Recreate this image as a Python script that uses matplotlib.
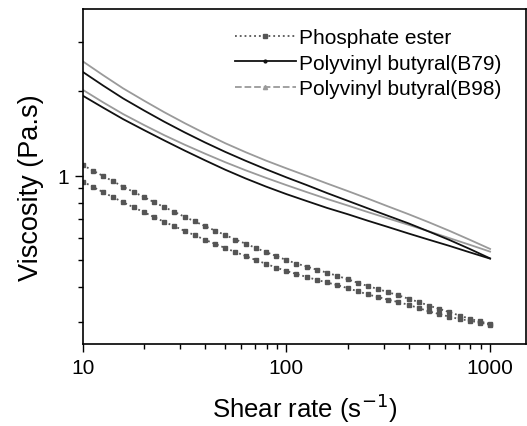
import numpy as np
import matplotlib
matplotlib.use('Agg')
import matplotlib.pyplot as plt
from matplotlib.lines import Line2D
from matplotlib.ticker import LogLocator, NullFormatter, FixedLocator, FixedFormatter

plt.rcParams['font.family'] = ['Liberation Sans', 'DejaVu Sans']

# shear rates for the polymer curves (1/s)
shear = [10, 12.6, 15.8, 20.0, 25.1, 31.6, 39.8, 50.1, 63.1, 79.4, 100,
         126, 158, 200, 251, 316, 398, 501, 631, 794, 1000]

# viscosity (Pa.s) - B98 (grey) and B79 (black), two runs each
b98_a = [2.564, 2.286, 2.051, 1.854, 1.687, 1.542, 1.416, 1.306, 1.213, 1.132, 1.062,
         0.998, 0.938, 0.881, 0.828, 0.776, 0.728, 0.681, 0.635, 0.590, 0.547]
b98_b = [2.028, 1.828, 1.660, 1.517, 1.396, 1.291, 1.199, 1.117, 1.045, 0.982, 0.925,
         0.873, 0.826, 0.782, 0.741, 0.703, 0.667, 0.632, 0.598, 0.566, 0.535]
b79_a = [2.350, 2.099, 1.888, 1.710, 1.560, 1.429, 1.315, 1.216, 1.130, 1.054, 0.986,
         0.925, 0.867, 0.813, 0.764, 0.718, 0.675, 0.631, 0.589, 0.547, 0.506]
b79_b = [1.932, 1.750, 1.592, 1.455, 1.337, 1.230, 1.135, 1.050, 0.977, 0.914, 0.859,
         0.811, 0.767, 0.728, 0.690, 0.655, 0.621, 0.590, 0.561, 0.532, 0.505]

# phosphate ester measured on a denser grid
shear_pe = [10, 11.2, 12.6, 14.1, 15.8, 17.8, 20.0, 22.4, 25.1, 28.2, 31.6, 35.5, 39.8,
            44.7, 50.1, 56.2, 63.1, 70.8, 79.4, 89.1, 100, 112, 126, 141, 158, 178, 200,
            224, 251, 282, 316, 355, 398, 447, 501, 562, 631, 708, 794, 891, 1000]
pe_a = [1.091, 1.043, 0.997, 0.954, 0.913, 0.874, 0.838, 0.804, 0.772, 0.742, 0.713,
        0.686, 0.660, 0.636, 0.613, 0.591, 0.571, 0.551, 0.533, 0.516, 0.499, 0.485,
        0.473, 0.461, 0.450, 0.438, 0.426, 0.414, 0.403, 0.393, 0.383, 0.373, 0.363,
        0.353, 0.343, 0.334, 0.325, 0.316, 0.308, 0.301, 0.295]
pe_b = [0.953, 0.912, 0.873, 0.837, 0.803, 0.770, 0.740, 0.711, 0.684, 0.659, 0.635,
        0.612, 0.590, 0.570, 0.551, 0.533, 0.516, 0.499, 0.484, 0.469, 0.456, 0.445,
        0.434, 0.424, 0.415, 0.406, 0.396, 0.386, 0.376, 0.368, 0.360, 0.353, 0.345,
        0.336, 0.327, 0.320, 0.313, 0.307, 0.303, 0.298, 0.293]

pe_col = '#555555'
b79_col = '#111111'
b98_col = '#9a9a9a'

fig = plt.figure(figsize=(5.27, 4.27), dpi=100)
ax = fig.add_axes([0.157, 0.192, 0.841, 0.785])

for ys in (pe_a, pe_b):
    ax.plot(shear_pe, ys, ls=':', color=pe_col, lw=1.3, marker='s', ms=2.6,
            mec=pe_col, mfc=pe_col)
for ys in (b98_a, b98_b):
    ax.plot(shear, ys, '-', color=b98_col, lw=1.3)
for ys in (b79_a, b79_b):
    ax.plot(shear, ys, '-', color=b79_col, lw=1.3)

ax.set_xscale('log')
ax.set_yscale('log')
ax.set_xlim(10, 1500)
ax.set_ylim(0.25, 3.95)

ax.xaxis.set_major_locator(FixedLocator([10, 100, 1000]))
ax.xaxis.set_major_formatter(FixedFormatter(['10', '100', '1000']))
ax.xaxis.set_minor_locator(LogLocator(base=10, subs=np.arange(2, 10)))
ax.xaxis.set_minor_formatter(NullFormatter())
ax.yaxis.set_major_locator(FixedLocator([1]))
ax.yaxis.set_major_formatter(FixedFormatter(['1']))
ax.yaxis.set_minor_locator(LogLocator(base=10, subs=np.arange(2, 10)))
ax.yaxis.set_minor_formatter(NullFormatter())

ax.tick_params(which='both', direction='out', top=False, right=False, width=1.0,
               labelsize=15, colors='black')
ax.tick_params(which='major', length=6, pad=4)
ax.tick_params(which='minor', length=3.5)
for s in ax.spines.values():
    s.set_linewidth(1.2)

ax.set_xlabel('Shear rate (s$^{-1}$)', fontsize=18.5, labelpad=10)
ax.set_ylabel('Viscosity (Pa.s)', fontsize=19.5)
ax.yaxis.set_label_coords(-0.088, 0.47)

handles = [
    Line2D([], [], ls=':', color=pe_col, lw=1.3, marker='s', ms=3),
    Line2D([], [], ls='-', color=b79_col, lw=1.3, marker='o', ms=2),
    Line2D([], [], ls='--', color=b98_col, lw=1.3, marker='^', ms=3),
]
labels = ['Phosphate ester', 'Polyvinyl butyral(B79)', 'Polyvinyl butyral(B98)']
ax.legend(handles, labels, loc='upper left', frameon=False, fontsize=15,
          handlelength=2.9, handletextpad=0.15, labelspacing=0.32, numpoints=1,
          borderpad=0, borderaxespad=0, bbox_to_anchor=(0.344, 0.943))

fig.savefig('out.png', dpi=100)
